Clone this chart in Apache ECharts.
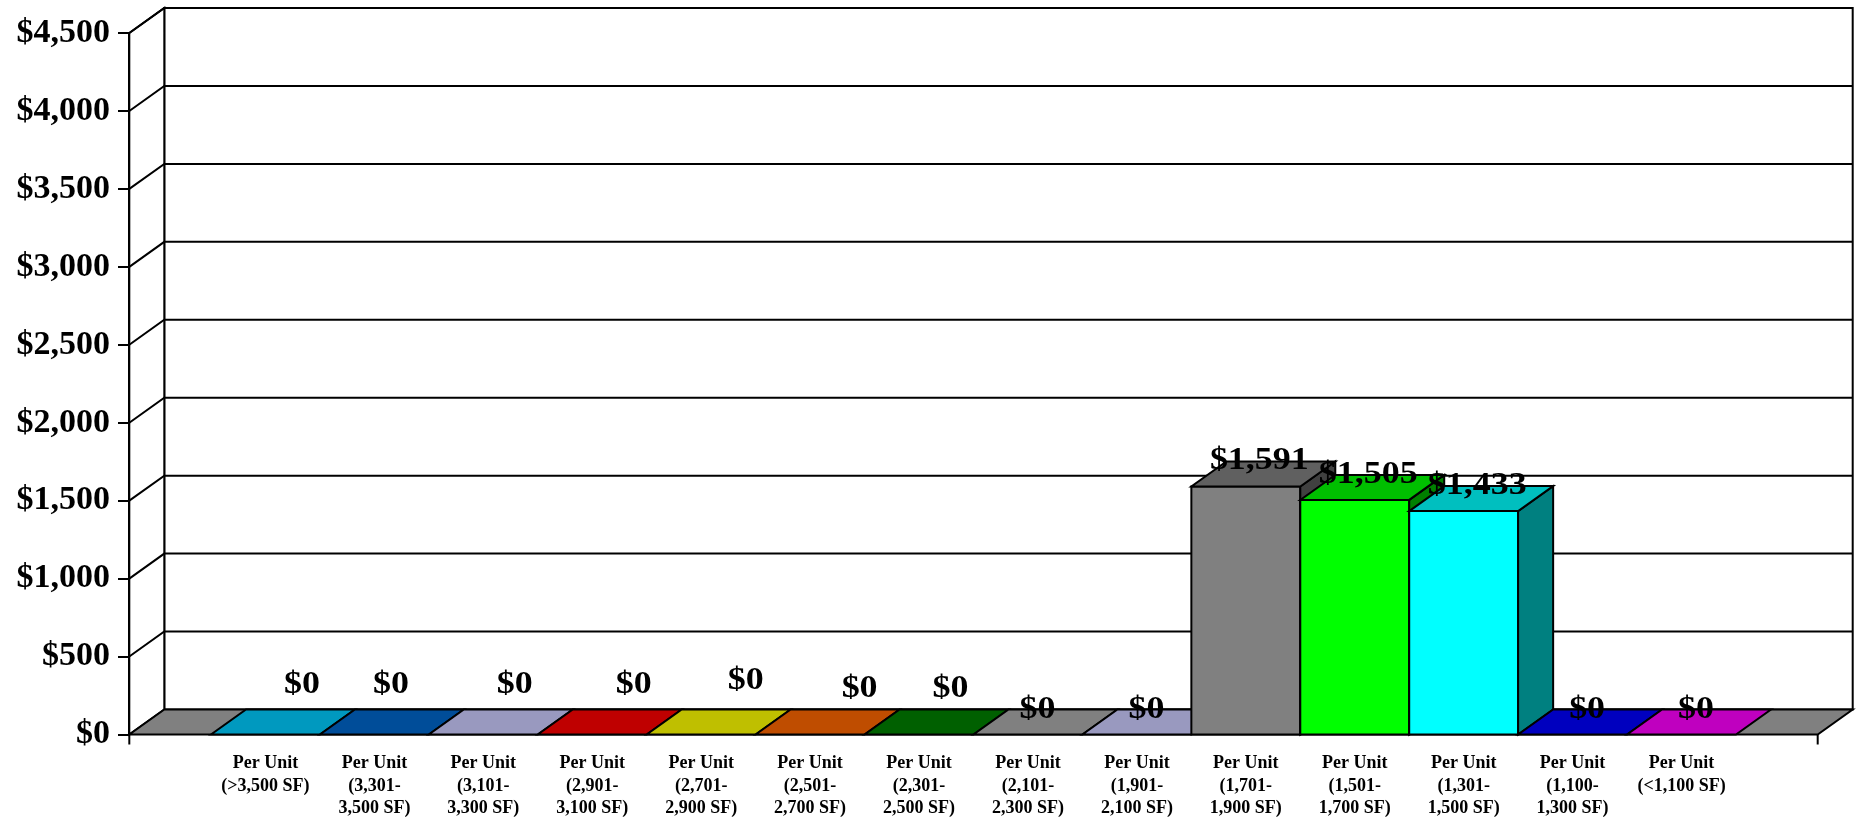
<!DOCTYPE html>
<html>
<head>
<meta charset="utf-8">
<script src="https://cdn.jsdelivr.net/npm/echarts@6/dist/echarts.min.js"></script>
<style>
html,body{margin:0;padding:0;background:#fff;}
#chart{width:1857px;height:820px;}
</style>
</head>
<body>
<div id="chart"></div>
<script>
// ---- data ----
const categories = [
  "Per Unit\n(>3,500 SF)",
  "Per Unit\n(3,301-\n3,500 SF)",
  "Per Unit\n(3,101-\n3,300 SF)",
  "Per Unit\n(2,901-\n3,100 SF)",
  "Per Unit\n(2,701-\n2,900 SF)",
  "Per Unit\n(2,501-\n2,700 SF)",
  "Per Unit\n(2,301-\n2,500 SF)",
  "Per Unit\n(2,101-\n2,300 SF)",
  "Per Unit\n(1,901-\n2,100 SF)",
  "Per Unit\n(1,701-\n1,900 SF)",
  "Per Unit\n(1,501-\n1,700 SF)",
  "Per Unit\n(1,301-\n1,500 SF)",
  "Per Unit\n(1,100-\n1,300 SF)",
  "Per Unit\n(<1,100 SF)"
];
const values = [0, 0, 0, 0, 0, 0, 0, 0, 0, 1591, 1505, 1433, 0, 0];
const yMin = 0;
const yMax = 4500;
const yStep = 500;

// ---- styling ----
const baseColors = ['#00CCFF','#0066CC','#CCCCFF','#FF0000','#FFFF00','#FF6600','#008000',
                    '#AAAAAA','#CCCCFF','#808080','#00FF00','#00FFFF','#0000FF','#FF00FF'];
const DX = 35, DY = 25;           // oblique depth
const FLOOR_EXT = 0.75;           // floor extension beyond categories, in bands
const SERIF = '"Liberation Serif", "Times New Roman", serif';
// small label nudges mimicking the original layout (dx, dy in px)
const labelNudge = [[23,-25],[3,-25],[18,-25],[28,-25],[31,-29],[36,-21],[18,-21],
                    [-4,0],[-4,0],[0,0],[0,0],[0,0],[1,0],[1,0]];

function shade(hex, f) {
  const n = parseInt(hex.slice(1), 16);
  const r = Math.round(((n >> 16) & 255) * f);
  const g = Math.round(((n >> 8) & 255) * f);
  const b = Math.round((n & 255) * f);
  return 'rgb(' + r + ',' + g + ',' + b + ')';
}
const ST = {stroke: '#000', lineWidth: 2, lineJoin: 'miter'};

function renderFrame(params, api) {
  const n = categories.length;
  const bw = api.size([1, 0])[0];
  const c0 = api.coord([0, yMin]);
  const cN = api.coord([n - 1, yMin]);
  const L = c0[0] - bw / 2 - FLOOR_EXT * bw;
  const R = cN[0] + bw / 2 + FLOOR_EXT * bw;
  const y0 = c0[1];
  const yTop = api.coord([0, yMax])[1];
  const ch = [];
  ch.push({type: 'polygon', shape: {points: [[L + DX, yTop - DY], [R + DX, yTop - DY], [R + DX, y0 - DY], [L + DX, y0 - DY]]},
           style: Object.assign({fill: '#fff'}, ST)});
  ch.push({type: 'polygon', shape: {points: [[L, yTop], [L + DX, yTop - DY], [L + DX, y0 - DY], [L, y0]]},
           style: Object.assign({fill: '#fff'}, ST)});
  for (let v = yMin + yStep; v <= yMax; v += yStep) {
    const y = api.coord([0, v])[1];
    ch.push({type: 'polyline', shape: {points: [[L, y], [L + DX, y - DY], [R + DX, y - DY]]},
             style: {stroke: '#000', lineWidth: 2, fill: null}});
  }
  ch.push({type: 'polygon', shape: {points: [[L, y0], [R, y0], [R + DX, y0 - DY], [L + DX, y0 - DY]]},
           style: Object.assign({fill: '#808080'}, ST)});
  ch.push({type: 'line', shape: {x1: L, y1: y0, x2: L, y2: y0 + 10}, style: {stroke: '#000', lineWidth: 2}});
  ch.push({type: 'line', shape: {x1: R, y1: y0, x2: R, y2: y0 + 10}, style: {stroke: '#000', lineWidth: 2}});
  return {type: 'group', children: ch};
}

function renderBar(params, api) {
  const i = api.value(0), v = api.value(1);
  const c = api.coord([i, yMin]);
  const bw = api.size([1, 0])[0];
  const x0 = c[0] - bw / 2, x1 = c[0] + bw / 2, y0 = c[1];
  const yv = api.coord([i, v])[1];
  const base = baseColors[i];
  const ch = [];
  if (v > 0) {
    ch.push({type: 'rect', shape: {x: x0, y: yv, width: bw, height: y0 - yv}, style: Object.assign({fill: base}, ST)});
    ch.push({type: 'polygon', shape: {points: [[x1, yv], [x1 + DX, yv - DY], [x1 + DX, y0 - DY], [x1, y0]]},
             style: Object.assign({fill: shade(base, 0.5)}, ST)});
  }
  ch.push({type: 'polygon', shape: {points: [[x0, yv], [x1, yv], [x1 + DX, yv - DY], [x0 + DX, yv - DY]]},
           style: Object.assign({fill: shade(base, 0.75)}, ST)});
  return {type: 'group', children: ch};
}

function renderLabel(params, api) {
  const i = api.value(0), v = api.value(1);
  const p = api.coord([i, v]);
  const nd = labelNudge[i] || [0, 0];
  return {
    type: 'text',
    x: p[0] + DX / 2 - 4 + nd[0],
    y: p[1] - DY + nd[1],
    scaleX: 1.16,
    style: {
      text: '$' + v.toLocaleString('en-US'),
      x: 0, y: 0,
      fill: '#000',
      fontSize: 31,
      fontWeight: 'bold',
      fontFamily: SERIF,
      align: 'center',
      verticalAlign: 'middle'
    }
  };
}

const barData = values.map((v, i) => [i, v]);

const chart = echarts.init(document.getElementById('chart'), null, {renderer: 'canvas'});
chart.setOption({
  animation: false,
  backgroundColor: '#fff',
  grid: {left: 211, right: 121, top: 33, bottom: 85},
  xAxis: {
    type: 'category',
    data: categories,
    axisLine: {show: false},
    axisTick: {show: false},
    axisLabel: {
      interval: 0, margin: 18, color: '#000',
      fontSize: 18, fontWeight: 'bold', fontFamily: SERIF, lineHeight: 22.5
    },
    splitLine: {show: false}
  },
  yAxis: {
    type: 'value',
    min: yMin, max: yMax, interval: yStep,
    offset: 82,
    axisLine: {show: true, lineStyle: {color: '#000', width: 2}},
    axisTick: {show: true, length: 11, lineStyle: {color: '#000', width: 2}},
    axisLabel: {
      margin: 19, color: '#000', fontSize: 34, fontWeight: 'bold', fontFamily: SERIF,
      formatter: v => '$' + v.toLocaleString('en-US')
    },
    splitLine: {show: false}
  },
  series: [
    {type: 'custom', name: 'frame', renderItem: renderFrame, data: [[0, 0]], z: 1, silent: true},
    {type: 'custom', name: 'bars', renderItem: renderBar, data: barData, z: 2},
    {type: 'custom', name: 'labels', renderItem: renderLabel, data: barData, z: 3, silent: true}
  ]
});
</script>
</body>
</html>
